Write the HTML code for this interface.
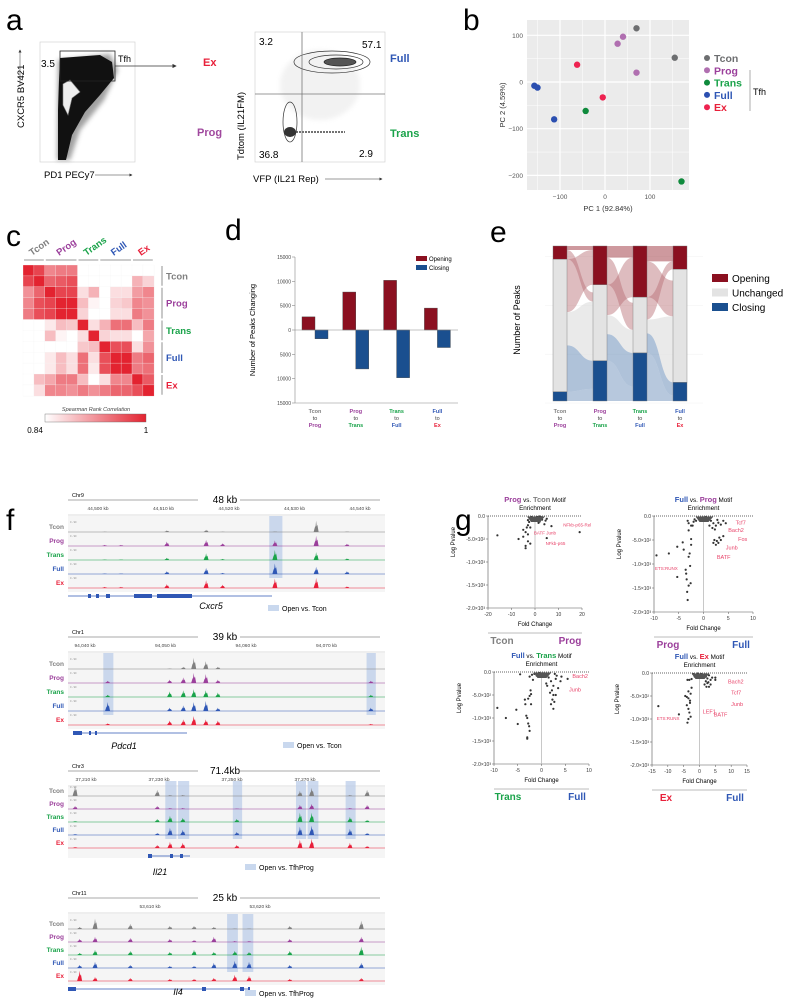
<!DOCTYPE html>
<html><head><meta charset="utf-8">
<style>
body{margin:0;background:#fff;}
svg{display:block;font-family:"Liberation Sans",sans-serif;}
</style></head>
<body>
<svg id="fig" width="789" height="1000" viewBox="0 0 789 1000" xmlns="http://www.w3.org/2000/svg">
<defs>
<filter id="blur1" x="-20%" y="-20%" width="140%" height="140%"><feGaussianBlur stdDeviation="2.5"/></filter>
<marker id="arr" markerWidth="6" markerHeight="6" refX="5" refY="3" orient="auto"><path d="M0,0 L6,3 L0,6 Z" fill="#333"/></marker>
</defs>

<!-- Panel a -->
<g>
<text x="6" y="30" font-size="30">a</text>
<g>
<rect x="40" y="42" width="95" height="120" fill="none" stroke="#ccc" stroke-width="0.6"/>
<path d="M58,60 L110,54 L118,70 L104,100 L80,130 L70,160 L57,160 Z" fill="#444" opacity="0.5" filter="url(#blur1)"/>
<path d="M60,58 L100,55 L112,62 L114,78 L100,95 L85,112 L72,135 L66,160 L58,160 L58,110 L59,80 Z" fill="#111"/>
<path d="M63,84 L70,80 L80,92 L72,98 L68,115 L63,105 Z" fill="#eee" stroke="#888" stroke-width="0.6"/>
<rect x="60" y="51" width="55" height="30" fill="none" stroke="#222" stroke-width="0.8"/>
<text x="41" y="67" font-size="10">3.5</text>
<text x="118" y="62" font-size="9">Tfh</text>
<line x1="115" y1="66" x2="176" y2="66" stroke="#333" stroke-width="0.7" marker-end="url(#arr)"/>
<text transform="translate(24,128) rotate(-90)" font-size="9.5">CXCR5 BV421</text>
<line x1="20" y1="85" x2="20" y2="50" stroke="#333" stroke-width="0.5" marker-end="url(#arr)"/>
<text x="44" y="178" font-size="9.5">PD1 PECy7</text>
<line x1="95" y1="175" x2="132" y2="175" stroke="#333" stroke-width="0.5" marker-end="url(#arr)"/>
</g>
<g>
<rect x="255" y="32" width="130" height="130" fill="none" stroke="#ccc" stroke-width="0.6"/>
<ellipse cx="320" cy="85" rx="40" ry="35" fill="#ccc" opacity="0.25" filter="url(#blur1)"/>
<ellipse cx="332" cy="62" rx="38" ry="11" fill="none" stroke="#333" stroke-width="0.7"/>
<ellipse cx="336" cy="62" rx="27" ry="7" fill="none" stroke="#333" stroke-width="0.7"/>
<ellipse cx="340" cy="62" rx="16" ry="4" fill="#555" stroke="#222" stroke-width="0.7"/>
<ellipse cx="290" cy="122" rx="7" ry="20" fill="none" stroke="#333" stroke-width="0.7"/>
<ellipse cx="290" cy="132" rx="6" ry="5" fill="#333"/>
<line x1="296" y1="132" x2="345" y2="132" stroke="#444" stroke-width="1.5" stroke-dasharray="2,1"/>
<line x1="302" y1="32" x2="302" y2="162" stroke="#777" stroke-width="0.8"/>
<line x1="255" y1="94" x2="385" y2="94" stroke="#777" stroke-width="0.8"/>
<text x="259" y="45" font-size="10">3.2</text>
<text x="362" y="48" font-size="10">57.1</text>
<text x="259" y="158" font-size="10">36.8</text>
<text x="359" y="157" font-size="10">2.9</text>
<text transform="translate(244,160) rotate(-90)" font-size="9.5">Tdtom (IL21FM)</text>
<text x="253" y="182" font-size="9.5">VFP (IL21 Rep)</text>
<line x1="325" y1="179" x2="382" y2="179" stroke="#333" stroke-width="0.5" marker-end="url(#arr)"/>
<text x="203" y="66" font-size="11" font-weight="bold" fill="#e8203a">Ex</text>
<text x="390" y="62" font-size="11" font-weight="bold" fill="#2f57b5">Full</text>
<text x="197" y="136" font-size="11" font-weight="bold" fill="#a0489e">Prog</text>
<text x="390" y="137" font-size="11" font-weight="bold" fill="#1aa34a">Trans</text>
</g>
</g>

<g id="dyn"></g>
</svg>

<script>
// ===== Panel b data (PCA) =====
const pcaGroups = ["Tcon","Prog","Trans","Full","Ex"];
const pcaColors = ["#6d6e70","#b06fb0","#0f8a3c","#2b4fb0","#ee2250"];
const pcaPC1 = [70,155, 40,28,70, -43,170, -157,-150,-113, -62,-5];
const pcaPC2 = [115,52, 97,82,20, -62,-213, -8,-12,-80, 37,-33];
const pcaGroupIdx = [0,0, 1,1,1, 2,2, 3,3,3, 4,4];
const pcaXTicks = [-100,0,100];
const pcaYTicks = [100,0,-100,-200];

// ===== Panel c data (Spearman heatmap) =====
const hmGroups = ["Tcon","Prog","Trans","Full","Ex"];
const hmGroupSizes = [2,3,2,3,2];
const hmRow0 = [1,.85,.55,.6,.6,0,0,0,0,0,0,0];
const hmRow1 = [.85,1,.7,.75,.8,0,0,0,0,0,.35,.2];
const hmRow2 = [.5,.7,1,.85,.85,.15,.35,0,.15,.15,.45,.55];
const hmRow3 = [.55,.8,.85,1,1,.3,.05,0,.2,.25,.55,.5];
const hmRow4 = [.6,.8,.85,1,1,.2,0,0,.15,.15,.6,.5];
const hmRow5 = [0,0,.1,.3,.25,1,.15,.35,.65,.65,.3,.6];
const hmRow6 = [0,0,.3,.05,0,.15,1,.2,.15,.15,0,.4];
const hmRow7 = [0,0,0,0,0,.25,.3,1,.8,.8,.15,.5];
const hmRow8 = [0,0,.1,.3,.15,.65,.15,.8,1,1,.6,.7];
const hmRow9 = [0,0,.1,.3,.15,.65,.1,.8,1,1,.6,.65];
const hmRow10 = [0,.3,.4,.6,.6,.3,0,.15,.55,.55,1,.75];
const hmRow11 = [0,.15,.55,.55,.5,.6,.5,.6,.7,.7,.8,1];

// ===== Panel d data =====
const dCategories = [["Tcon","Prog"],["Prog","Trans"],["Trans","Full"],["Full","Ex"]];
const dOpening = [2700,7800,10200,4500];
const dClosing = [1800,8000,9800,3600];
const dTickLabels = ["15000","10000","5000","0","5000","10000","15000"];
const dTickValues = [15000,10000,5000,0,-5000,-10000,-15000];

// ===== Panel e data (fractions) =====
const eOpening = [0.085,0.25,0.33,0.15];
const eUnchanged = [0.855,0.49,0.36,0.73];
const eClosing = [0.06,0.26,0.31,0.12];

// ===== Panel f data (tracks) =====
const l1Peaks = [44501,44503.5,44510.5,44516.5,44519,44527,44533.3,44538];
const l1Tcon = [0.03,0,0.15,0.2,0.03,0.05,1.0,0.05];
const l1Prog = [0.1,0.1,0.4,0.55,0.25,0.5,0.9,0.2];
const l1Trans = [0.05,0.05,0.2,0.6,0.1,0.9,0.7,0.15];
const l1Full = [0.05,0.05,0.25,0.55,0.1,0.95,0.65,0.25];
const l1Ex = [0.1,0.1,0.35,0.7,0.3,0.85,0.9,0.15];
const l1Ticks = [44500,44510,44520,44530,44540];
const l1Highlights = [[44526.3,44528]];

const l2Peaks = [94042.8,94050.5,94052.2,94053.5,94055,94056.5,94075.5];
const l2Tcon = [0,0.05,0.2,1.0,0.7,0.2,0];
const l2Prog = [0.2,0.3,0.5,0.9,0.8,0.3,0.2];
const l2Trans = [0.2,0.5,0.6,0.7,0.6,0.4,0.2];
const l2Full = [0.8,0.3,0.5,0.8,0.9,0.3,0.3];
const l2Ex = [0.15,0.4,0.5,0.8,0.5,0.4,0.1];
const l2Ticks = [94040,94050,94060,94070];
const l2Highlights = [[94042.4,94043.4],[94075.1,94076]];

const l3Peaks = [37207,37229.5,37233,37236.5,37251.3,37268.6,37271.8,37282.3,37287];
const l3Tcon = [1,0.6,0.1,0.1,0,0.5,0.8,0.1,0.6];
const l3Prog = [0.3,0.3,0.1,0.1,0.05,0.4,0.5,0.1,0.4];
const l3Trans = [0.1,0.3,0.6,0.4,0.3,0.9,0.9,0.5,0.2];
const l3Full = [0.1,0.2,0.7,0.5,0.3,0.8,0.9,0.6,0.2];
const l3Ex = [0.1,0.3,0.6,0.5,0.3,0.8,0.9,0.5,0.2];
const l3Ticks = [37210,37230,37250,37270];
const l3Highlights = [[37232,37234.5],[37235.5,37238],[37250.5,37252.5],[37267.8,37270],[37271,37273.4],[37281.4,37283.6]];

const l4Peaks = [53603.6,53605,53608.2,53611.8,53614,53615.8,53617.7,53619,53622.7,53629.2];
const l4Tcon = [.2,1,.5,.3,.3,.2,.05,.05,.3,.8];
const l4Prog = [.3,.5,.4,.3,.2,.5,.1,.1,.3,.5];
const l4Trans = [.2,.5,.4,.3,.5,.3,.4,.3,.4,.8];
const l4Full = [.3,.6,.3,.2,.2,.5,.7,.6,.3,.5];
const l4Ex = [1,.4,.3,.2,.2,.3,.6,.5,.2,.3];
const l4Ticks = [53610,53620];
const l4Highlights = [[53617.1,53617.9],[53618.5,53619.3]];

// ===== Panel g data (volcano) =====
const v1FC = [-16,-7,-5,-4,-4,-3,-3,-2,-4,-3,-5,-2,5,7,19,4,3,2,-1,1,0.5,-0.5,2.5,-2,4.5,1.5,-1.5,3,2,-3,5,-2.5,-3.5,1,2];
const v1LP = [-420,-500,-300,-650,-700,-550,-400,-250,-350,-200,-450,-600,-480,-220,-350,-180,-80,-120,-100,-60,-30,-40,-20,-50,-100,-150,-20,-40,-10,-90,-60,-130,-250,-20,-70];
const v2FC = [-9.5,-7,-5.3,-5.3,-4,-3.6,-3.4,-3.3,-3.2,-3,-3,-2.7,-2.5,-2.5,-2.8,-3.5,-2.6,-4.2,-3,-2.5,-3,-1.5,-1,-2,-0.5,-1.8,-2.2,-3.2,1,1.5,2,2.5,2.3,3,3.5,4,2.2,2.7,3.2,3.5,4,2.5,2,3,0.5,1.2,1.8,0.8,2.8,4.5,1.5];
const v2LP = [-820,-780,-640,-1270,-700,-1120,-1320,-1580,-1750,-1450,-850,-1040,-600,-480,-780,-1200,-1400,-550,-300,-200,-150,-100,-50,-120,-30,-70,-200,-100,-50,-100,-150,-200,-280,-140,-180,-100,-500,-520,-450,-500,-420,-600,-560,-560,-20,-200,-250,-80,-80,-150,-30];
const v3FC = [-9.3,-7.5,-5.3,-5,-3.5,-3.2,-3,-3,-3,-2.5,-2.6,-2.8,-2.3,-2.2,-2.5,-2.8,-2.2,-3.4,-4.5,-2.5,-1.5,-1,-2,-0.5,-1.8,1,1.5,2,2.5,2.2,2.5,2.3,2.7,2.5,2,3,3.5,4,3,5.5,1.2,1.8,0.5,3.2,2.8,1,4.2];
const v3LP = [-780,-1000,-820,-1130,-600,-950,-1000,-1420,-1450,-1280,-1180,-1120,-400,-480,-520,-580,-700,-700,-50,-100,-40,-80,-60,-20,-170,-50,-120,-200,-300,-400,-500,-600,-650,-800,-700,-500,-350,-200,-150,-150,-300,-450,-30,-80,-40,-250,-100];
const v4FC = [-13,-6.5,-4.5,-3.5,-3.8,-3.5,-3.2,-3,-3,-3.5,-4,-2.8,-2.5,-3.5,-4,-2.8,-3.2,-2.5,-1.5,-1,-2,-0.5,-3.8,1,1.5,2,2.5,3,3.5,2.5,2,4,5,5,1.2,3,1.8,0.5,3.5,2.8,2.2,1.6];
const v4LP = [-720,-900,-500,-1000,-1080,-780,-860,-650,-600,-550,-520,-450,-320,-400,-700,-950,-150,-130,-80,-40,-20,-10,-150,-40,-100,-180,-220,-300,-250,-120,-80,-100,-150,-100,-60,-50,-30,-20,-150,-200,-300,-250];
const volcYTicks = [0,-500,-1000,-1500,-2000];
const volcYLabels = ["0.0","-5.0×10²","-1.0×10³","-1.5×10³","-2.0×10³"];

// ================= drawing =================
const NS = "http://www.w3.org/2000/svg";
const root = document.getElementById("dyn");
function mk(tag, attrs, parent){
  const el = document.createElementNS(NS, tag);
  for (const k in attrs) el.setAttribute(k, attrs[k]);
  (parent||root).appendChild(el);
  return el;
}
function nm(el, name){
  
  
  return el;
}
function txt(x,y,s,size,opts,name){
  const o = Object.assign({x:x,y:y,'font-size':size}, opts||{});
  const t = mk("text", o);
  t.textContent = s;
  
  
  return t;
}
const COL = {Tcon:"#808080",Prog:"#9b3f9b",Trans:"#1aa34a",Full:"#2f57b5",Ex:"#e8203a"};
const OPEN="#8b1020", CLOSE="#1a4f8f";

// ---- Panel b ----
txt(463,30,"b",30,{},"panel-b-label");
const bx0=527,bx1=689,by0=20,by1=190;
const bX = v => 605 + v*0.45;
const bY = v => 82 - v*0.467;
let e;
e = mk("rect",{x:bx0,y:by0,width:bx1-bx0,height:by1-by0,fill:"#ebebeb"}); nm(e,"pca-plot-background");
[-150,-50,50,150].forEach(v=>{ e=mk("line",{x1:bX(v),x2:bX(v),y1:by0,y2:by1,stroke:"#fff","stroke-width":0.5}); nm(e,"pca-minor-gridline-x"); });
[150,50,-50,-150].forEach(v=>{ if(bY(v)>by0&&bY(v)<by1){ e=mk("line",{x1:bx0,x2:bx1,y1:bY(v),y2:bY(v),stroke:"#fff","stroke-width":0.5}); nm(e,"pca-minor-gridline-y"); }});
pcaXTicks.forEach(v=>{ e=mk("line",{x1:bX(v),x2:bX(v),y1:by0,y2:by1,stroke:"#fff","stroke-width":1.2}); nm(e,"pca-gridline-x");
  txt(bX(v),199,String(v).replace("-","−"),6.5,{'text-anchor':'middle',fill:'#555'},"pca-x-tick-label"); });
pcaYTicks.forEach(v=>{ e=mk("line",{x1:bx0,x2:bx1,y1:bY(v),y2:bY(v),stroke:"#fff","stroke-width":1.2}); nm(e,"pca-gridline-y");
  txt(523,bY(v)+2.5,String(v).replace("-","−"),6.5,{'text-anchor':'end',fill:'#555'},"pca-y-tick-label"); });
txt(608,211,"PC 1 (92.84%)",7.5,{'text-anchor':'middle',fill:'#333'},"pca-x-axis-title");
txt(0,0,"PC 2 (4.59%)",7.5,{'text-anchor':'middle',fill:'#333',transform:'translate(505,105) rotate(-90)'},"pca-y-axis-title");
pcaPC1.forEach((v,i)=>{ e=mk("circle",{cx:bX(v),cy:bY(pcaPC2[i]),r:3.2,fill:pcaColors[pcaGroupIdx[i]]}); nm(e,"pca-point-"+pcaGroups[pcaGroupIdx[i]].toLowerCase()); });
pcaGroups.forEach((g,i)=>{ const y=58+i*12.3;
  e=mk("circle",{cx:707,cy:y,r:3,fill:pcaColors[i]}); nm(e,"pca-legend-swatch-"+g.toLowerCase());
  txt(714,y+4,g,10.5,{'font-weight':'bold',fill:i==0?'#6d6e70':COL[g]},"pca-legend-entry-"+g.toLowerCase()); });
e=mk("line",{x1:750,x2:750,y1:70,y2:111,stroke:"#777","stroke-width":0.6}); nm(e,"tfh-bracket");
txt(753,95,"Tfh",9,{},"tfh-bracket-label");

// ---- Panel c ----
txt(6,246,"c",30,{},"panel-c-label");
const hm=[hmRow0,hmRow1,hmRow2,hmRow3,hmRow4,hmRow5,hmRow6,hmRow7,hmRow8,hmRow9,hmRow10,hmRow11];
const cx0=23,cy0=265,cs=10.9;
function hmColor(v){ const r=Math.round(255+(227-255)*v), g=Math.round(255+(35-255)*v), b=Math.round(255+(48-255)*v); return `rgb(${r},${g},${b})`; }
hm.forEach((row,i)=>row.forEach((v,j)=>{ e=mk("rect",{x:cx0+j*cs,y:cy0+i*cs,width:cs+0.3,height:cs+0.3,fill:hmColor(v),stroke:'#f4f4f4','stroke-width':0.3}); nm(e,"heatmap-cell"); }));
let acc=0;
hmGroups.forEach((g,i)=>{ const n=hmGroupSizes[i]; const a=cx0+acc*cs, b=cx0+(acc+n)*cs;
  e=mk("line",{x1:a+1,x2:b-1,y1:260,y2:260,stroke:"#777","stroke-width":0.8}); nm(e,"heatmap-col-group-bar");
  e=mk("line",{x1:162,x2:162,y1:cy0+acc*cs+1,y2:cy0+(acc+n)*cs-1,stroke:"#777","stroke-width":0.8}); nm(e,"heatmap-row-group-bar");
  txt((a+b)/2-2,256,g,9.5,{'font-weight':'bold',fill:COL[g],transform:`rotate(-35 ${(a+b)/2-2} 256)`},"heatmap-col-label-"+g.toLowerCase());
  txt(166,cy0+(acc+n/2)*cs+3.5,g,9.5,{'font-weight':'bold',fill:COL[g]},"heatmap-row-label-"+g.toLowerCase());
  acc+=n; });
const grad=mk("linearGradient",{id:"hmgrad",x1:0,x2:1,y1:0,y2:0},document.querySelector("defs"));
mk("stop",{offset:0,'stop-color':'#fff'},grad); mk("stop",{offset:1,'stop-color':'#e32330'},grad);
e=mk("rect",{x:45,y:414,width:101,height:8,fill:"url(#hmgrad)",stroke:"#666","stroke-width":0.4}); nm(e,"colorbar");
txt(96,411,"Spearman Rank Correlation",5.5,{'text-anchor':'middle','font-style':'italic',fill:'#444'},"colorbar-title");
txt(35,433,"0.84",8,{'text-anchor':'middle'},"colorbar-min-label");
txt(146,433,"1",8,{'text-anchor':'middle'},"colorbar-max-label");

// ---- Panel d ----
txt(225,240,"d",30,{},"panel-d-label");
const dAxX=295, dY0=330, dScale=73/15000;
const dY = v => dY0 - v*dScale;
e=mk("line",{x1:dAxX,x2:dAxX,y1:dY(15000),y2:dY(-15000),stroke:"#888","stroke-width":0.6}); nm(e,"d-y-axis");
e=mk("line",{x1:dAxX,x2:458,y1:dY(-15000),y2:dY(-15000),stroke:"#888","stroke-width":0.6}); nm(e,"d-x-axis");
dTickValues.forEach((v,i)=>{ e=mk("line",{x1:dAxX-3,x2:dAxX,y1:dY(v),y2:dY(v),stroke:"#888","stroke-width":0.6}); nm(e,"d-y-tick");
  txt(dAxX-4,dY(v)+2,dTickLabels[i],5,{'text-anchor':'end',fill:'#444'},"d-y-tick-label"); });
const dGroupX = i => 302 + i*40.8;
dCategories.forEach((c,i)=>{ const x=dGroupX(i);
  e=mk("rect",{x:x,y:dY(dOpening[i]),width:13,height:dOpening[i]*dScale,fill:OPEN,stroke:"#444","stroke-width":0.4}); nm(e,"bar-opening-"+c[0].toLowerCase()+"-to-"+c[1].toLowerCase());
  e=mk("rect",{x:x+13,y:dY0,width:13,height:dClosing[i]*dScale,fill:CLOSE,stroke:"#444","stroke-width":0.4}); nm(e,"bar-closing-"+c[0].toLowerCase()+"-to-"+c[1].toLowerCase());
  txt(x+13,413,c[0],5.5,{'text-anchor':'middle','font-weight':'bold',fill:COL[c[0]]},"d-x-label-from");
  txt(x+13,420,"to",5.5,{'text-anchor':'middle',fill:'#444'},"d-x-label-to");
  txt(x+13,427,c[1],5.5,{'text-anchor':'middle','font-weight':'bold',fill:COL[c[1]]},"d-x-label-target"); });
e=mk("line",{x1:dAxX,x2:458,y1:dY0,y2:dY0,stroke:"#888","stroke-width":0.6}); nm(e,"d-zero-line");
e=mk("rect",{x:416,y:256,width:11,height:5,fill:OPEN}); nm(e,"d-legend-opening-swatch");
txt(429,261,"Opening",6,{},"d-legend-opening");
e=mk("rect",{x:416,y:265,width:11,height:5,fill:CLOSE}); nm(e,"d-legend-closing-swatch");
txt(429,270,"Closing",6,{},"d-legend-closing");
txt(0,0,"Number of Peaks Changing",7.5,{'text-anchor':'middle',transform:'translate(255,330) rotate(-90)'},"d-y-axis-title");

// ---- Panel e ----
txt(490,242,"e",30,{},"panel-e-label");
const eTop=246, eBot=401, eH=eBot-eTop, eW=14;
const eX = i => 553 + i*40;
[0,0.25,0.5,0.75].forEach(f=>{ e=mk("line",{x1:545,x2:703,y1:eBot-f*eH*1.26+2,y2:eBot-f*eH*1.26+2,stroke:"#f0f0f0","stroke-width":0.5}); nm(e,"e-gridline"); });
function band(x0,a0,b0,x1,a1,b1,col,op,name){
  const m=(x0+x1)/2;
  e=mk("path",{d:`M${x0},${a0} C${m},${a0} ${m},${a1} ${x1},${a1} L${x1},${b1} C${m},${b1} ${m},${b0} ${x0},${b0} Z`,fill:col,opacity:op}); nm(e,name);
}
const segY = (i)=>{ const o=eTop+eOpening[i]*eH, u=o+eUnchanged[i]*eH; return [eTop,o,u,eBot]; };
for(let i=0;i<3;i++){
  const s=segY(i), t=segY(i+1), x0=eX(i)+eW, x1=eX(i+1);
  const ou=s[1]-s[0], uu=s[2]-s[1], cu=s[3]-s[2];
  const tO=t[1]-t[0], tU=t[2]-t[1], tC=t[3]-t[2];
  band(x0,s[0],s[0]+ou*0.3,x1,t[0],t[0]+ou*0.3,"#a5454f",0.55,"flow-opening-opening");
  band(x0,s[0]+ou*0.3,s[1],x1,t[1]+tU*0.1,t[1]+tU*0.1+ou*0.7,"#b56a72",0.45,"flow-opening-unchanged");
  band(x0,s[1],s[1]+uu*0.4,x1,t[0]+ou*0.3,t[1],"#b56a72",0.45,"flow-unchanged-opening");
  band(x0,s[1]+uu*0.4,s[2]-uu*0.35,x1,t[1]+tU*0.1+ou*0.7,t[2],"#dcdcdc",0.6,"flow-unchanged-unchanged");
  band(x0,s[2]-uu*0.35,s[2],x1,t[2],t[2]+tC*0.7,"#5f86b3",0.5,"flow-unchanged-closing");
  band(x0,s[2],s[3],x1,t[2]+tC*0.7,t[3],"#5f86b3",0.45,"flow-closing-closing");
}
for(let i=0;i<4;i++){
  const s=segY(i), x=eX(i);
  e=mk("rect",{x:x,y:s[0],width:eW,height:s[1]-s[0],fill:OPEN,stroke:"#777","stroke-width":0.4}); nm(e,"e-bar-opening");
  e=mk("rect",{x:x,y:s[1],width:eW,height:s[2]-s[1],fill:"#e3e3e3",stroke:"#777","stroke-width":0.4}); nm(e,"e-bar-unchanged");
  e=mk("rect",{x:x,y:s[2],width:eW,height:s[3]-s[2],fill:CLOSE,stroke:"#777","stroke-width":0.4}); nm(e,"e-bar-closing");
  const c=dCategories[i];
  txt(x+7,413,c[0],5.5,{'text-anchor':'middle','font-weight':'bold',fill:COL[c[0]]},"e-x-label-from");
  txt(x+7,420,"to",5.5,{'text-anchor':'middle',fill:'#444'},"e-x-label-to");
  txt(x+7,427,c[1],5.5,{'text-anchor':'middle','font-weight':'bold',fill:COL[c[1]]},"e-x-label-target");
}
[["Opening",OPEN],["Unchanged","#e3e3e3"],["Closing",CLOSE]].forEach((p,i)=>{ const y=274+i*14.5;
  e=mk("rect",{x:712,y:y,width:16,height:8,fill:p[1]}); nm(e,"e-legend-swatch-"+p[0].toLowerCase());
  txt(732,y+8,p[0],10,{},"e-legend-"+p[0].toLowerCase()); });
txt(0,0,"Number of Peaks",9,{'text-anchor':'middle',transform:'translate(520,320) rotate(-90)'},"e-y-axis-title");

// ---- Panel f ----
txt(6,530,"f",30,{},"panel-f-label");
const samples=["Tcon","Prog","Trans","Full","Ex"];
function locus(cfg){
  const X = kb => cfg.px0 + (kb-cfg.kb0)*cfg.ppk;
  txt(72,cfg.ruler-3,cfg.chr,5.5,{},"chromosome-label");
  txt(225,cfg.ruler+3,cfg.span,10,{'text-anchor':'middle'},"locus-span-label");
  e=mk("line",{x1:68,x2:198,y1:cfg.ruler,y2:cfg.ruler,stroke:"#555","stroke-width":0.5}); nm(e,"span-line-left");
  e=mk("line",{x1:240,x2:380,y1:cfg.ruler,y2:cfg.ruler,stroke:"#555","stroke-width":0.5}); nm(e,"span-line-right");
  cfg.ticks.forEach(t=>{ txt(X(t),cfg.ruler+10,t.toLocaleString("en-US")+" kb",4.8,{'text-anchor':'middle',fill:'#444'},"genome-tick-label"); });
  e=mk("line",{x1:68,x2:385,y1:cfg.ruler+15,y2:cfg.ruler+15,stroke:"#bbb","stroke-width":0.5}); nm(e,"genome-ruler");
  e=mk("rect",{x:68,y:cfg.ruler+16,width:317,height:cfg.row*5+6,fill:"#f5f5f5"}); nm(e,"track-background");
  cfg.hl.forEach(h=>{ e=mk("rect",{x:X(h[0])-1,y:cfg.base0-cfg.row-2,width:X(h[1])-X(h[0])+2,height:cfg.row*4+6,fill:"#b8cbe8",opacity:0.7}); nm(e,"differential-peak-highlight"); });
  samples.forEach((s,si)=>{
    const b=cfg.base0+si*cfg.row;
    txt(64,b-3,s,6.5,{'text-anchor':'end','font-weight':'bold',fill:COL[s]},"track-label-"+s.toLowerCase());
    txt(70,b-cfg.row+5,"0 - 90",2.5,{fill:'#888'},"track-scale-label");
    e=mk("line",{x1:68,x2:385,y1:b,y2:b,stroke:COL[s],"stroke-width":0.5}); nm(e,"track-baseline-"+s.toLowerCase());
    const hs=cfg.h[si];
    cfg.peaks.forEach((p,pi)=>{ const x=X(p), h=hs[pi]*cfg.row*0.8; if(h<0.3) return;
      e=mk("path",{d:`M${x-2.5},${b} L${x-1.3},${b-h*0.4} L${x-0.5},${b-h*0.55} L${x},${b-h} L${x+0.6},${b-h*0.5} L${x+1.3},${b-h*0.65} L${x+2.5},${b} Z`,fill:COL[s]}); nm(e,"peak-"+s.toLowerCase()); });
  });
  const gy=cfg.base0+cfg.row*4+8;
  e=mk("line",{x1:cfg.g0,x2:cfg.g1,y1:gy,y2:gy,stroke:"#2f57b5","stroke-width":0.7}); nm(e,"gene-model-line");
  cfg.exons.forEach(ex=>{ e=mk("rect",{x:ex[0],y:gy-2,width:ex[1]-ex[0],height:4,fill:"#2f57b5"}); nm(e,"gene-exon"); });
  txt(cfg.gx,cfg.gy,cfg.gene,9,{'text-anchor':'middle','font-style':'italic'},"gene-name-"+cfg.gene.toLowerCase());
  e=mk("rect",{x:cfg.lx,y:cfg.ly-6,width:11,height:6,fill:"#c9d8ee"}); nm(e,"highlight-legend-swatch");
  txt(cfg.lx+14,cfg.ly,cfg.legend,7,{},"highlight-legend-label");
}
locus({chr:"Chr9",span:"48 kb",ruler:500,kb0:44500,px0:98,ppk:6.55,ticks:l1Ticks,base0:532,row:14,peaks:l1Peaks,h:[l1Tcon,l1Prog,l1Trans,l1Full,l1Ex],hl:l1Highlights,
  g0:68,g1:272,exons:[[88,91],[96,99],[106,110],[134,152],[157,192]],gene:"Cxcr5",gx:211,gy:609,lx:268,ly:611,legend:"Open vs. Tcon"});
locus({chr:"Chr1",span:"39 kb",ruler:637,kb0:94040,px0:85,ppk:8.05,ticks:l2Ticks,base0:669,row:14,peaks:l2Peaks,h:[l2Tcon,l2Prog,l2Trans,l2Full,l2Ex],hl:l2Highlights,
  g0:73,g1:187,exons:[[73,82],[89,91],[95,97]],gene:"Pdcd1",gx:124,gy:749,lx:283,ly:748,legend:"Open vs. Tcon"});
locus({chr:"Chr3",span:"71.4kb",ruler:771,kb0:37210,px0:86,ppk:3.65,ticks:l3Ticks,base0:796,row:13,peaks:l3Peaks,h:[l3Tcon,l3Prog,l3Trans,l3Full,l3Ex],hl:l3Highlights,
  g0:148,g1:190,exons:[[148,152],[170,173],[180,183]],gene:"Il21",gx:160,gy:875,lx:245,ly:870,legend:"Open vs. TfhProg"});
locus({chr:"Chr11",span:"25 kb",ruler:898,kb0:53610,px0:150,ppk:11,ticks:l4Ticks,base0:929,row:13,peaks:l4Peaks,h:[l4Tcon,l4Prog,l4Trans,l4Full,l4Ex],hl:l4Highlights,
  g0:68,g1:250,exons:[[68,76],[202,206],[240,244],[248,250]],gene:"Il4",gx:178,gy:995,lx:245,ly:996,legend:"Open vs. TfhProg"});

// ---- Panel g ----
txt(455,530,"g",30,{},"panel-g-label");
function volcano(cfg){
  const X = v => cfg.x0 + (v-cfg.xmin)/(cfg.xmax-cfg.xmin)*(cfg.x1-cfg.x0);
  const Y = v => cfg.y0 + (-v)/2000*(cfg.y1-cfg.y0);
  const cx=(cfg.x0+cfg.x1)/2;
  const t=mk("text",{x:cx,y:cfg.y0-14,'font-size':6.3,'text-anchor':'middle'}); nm(t,"volcano-title");
  let s=mk("tspan",{'font-weight':'bold',fill:COL[cfg.a],'font-size':7.5},t); s.textContent=cfg.a;
  s=mk("tspan",{},t); s.textContent=" vs. ";
  s=mk("tspan",{'font-weight':'bold',fill:COL[cfg.b],'font-size':7.5},t); s.textContent=cfg.b;
  s=mk("tspan",{},t); s.textContent=" Motif";
  txt(cx,cfg.y0-6,"Enrichment",6.3,{'text-anchor':'middle'},"volcano-title-line2");
  e=mk("line",{x1:cfg.x0,x2:cfg.x0,y1:cfg.y0,y2:cfg.y1,stroke:"#555","stroke-width":0.6}); nm(e,"volcano-y-axis");
  e=mk("line",{x1:cfg.x0,x2:cfg.x1,y1:cfg.y1,y2:cfg.y1,stroke:"#555","stroke-width":0.6}); nm(e,"volcano-x-axis");
  e=mk("line",{x1:cfg.x0,x2:cfg.x1,y1:cfg.y0,y2:cfg.y0,stroke:"#333","stroke-width":0.7,'stroke-dasharray':'1,1'}); nm(e,"volcano-significance-line");
  e=mk("line",{x1:X(0),x2:X(0),y1:cfg.y0,y2:cfg.y1,stroke:"#bbb","stroke-width":0.8}); nm(e,"volcano-zero-line");
  volcYTicks.forEach((v,i)=>{ e=mk("line",{x1:cfg.x0-2,x2:cfg.x0,y1:Y(v),y2:Y(v),stroke:"#555","stroke-width":0.5}); nm(e,"volcano-y-tick");
    txt(cfg.x0-3,Y(v)+2,volcYLabels[i],5,{'text-anchor':'end',fill:'#333'},"volcano-y-tick-label"); });
  cfg.xt.forEach(v=>{ e=mk("line",{x1:X(v),x2:X(v),y1:cfg.y1,y2:cfg.y1+2,stroke:"#555","stroke-width":0.5}); nm(e,"volcano-x-tick");
    txt(X(v),cfg.y1+8,String(v),5,{'text-anchor':'middle',fill:'#333'},"volcano-x-tick-label"); });
  txt(cx,cfg.y1+18,"Fold Change",6,{'text-anchor':'middle'},"volcano-x-axis-title");
  txt(0,0,"Log Pvalue",6,{'text-anchor':'middle',transform:`translate(${cfg.x0-33},${(cfg.y0+cfg.y1)/2-20}) rotate(-90)`},"volcano-y-axis-title");
  cfg.fc.forEach((v,i)=>{ e=mk("circle",{cx:X(v),cy:Y(cfg.lp[i]),r:1.1,fill:"#333"}); nm(e,"motif-point"); });
  e=mk("path",{d:`M${X(0)-8},${cfg.y0+0.5} L${X(0)+10},${cfg.y0+0.5} L${X(0)+5},${cfg.y0+6} L${X(0)-4},${cfg.y0+6} Z`,fill:"#555"}); nm(e,"motif-point-cluster");
  cfg.labels.forEach(l=>{ txt(X(l[1]),Y(l[2]),l[0],l[0].length>6?4.5:5.5,{fill:"#e8446a"},"motif-label"); });
  const ay=cfg.y1+25;
  e=mk("line",{x1:cfg.x0,x2:cfg.x1,y1:ay,y2:ay,stroke:"#555","stroke-width":0.4}); nm(e,"volcano-direction-arrow");
  txt(cfg.x0+14,ay+11,cfg.left,10,{'text-anchor':'middle','font-weight':'bold',fill:COL[cfg.left]},"volcano-left-group");
  txt(cfg.x1-12,ay+11,cfg.right,10,{'text-anchor':'middle','font-weight':'bold',fill:COL[cfg.right]},"volcano-right-group");
}
volcano({a:"Prog",b:"Tcon",x0:488,x1:582,y0:516,y1:608,xmin:-20,xmax:20,xt:[-20,-10,0,10,20],fc:v1FC,lp:v1LP,left:"Tcon",right:"Prog",
  labels:[["NFkb-p65-Rel",12,-230],["BATF Junb",-0.5,-400],["NFkb-p65",4.5,-630]]});
volcano({a:"Full",b:"Prog",x0:654,x1:753,y0:516,y1:612,xmin:-10,xmax:10,xt:[-10,-5,0,5,10],fc:v2FC,lp:v2LP,left:"Prog",right:"Full",
  labels:[["Tcf7",6.5,-180],["Bach2",5,-330],["Fos",7,-520],["Junb",4.5,-700],["BATF",2.7,-900],["ETS:RUNX",-9.8,-1120]]});
volcano({a:"Full",b:"Trans",x0:494,x1:589,y0:672,y1:764,xmin:-10,xmax:10,xt:[-10,-5,0,5,10],fc:v3FC,lp:v3LP,left:"Trans",right:"Full",
  labels:[["Bach2",6.5,-130],["Junb",5.8,-420]]});
volcano({a:"Full",b:"Ex",x0:652,x1:747,y0:673,y1:765,xmin:-15,xmax:15,xt:[-15,-10,-5,0,5,10,15],fc:v4FC,lp:v4LP,left:"Ex",right:"Full",
  labels:[["Bach2",9,-230],["Tcf7",10,-470],["Junb",10,-720],["LEF1",1,-880],["BATF",4.5,-950],["ETS:RUNX",-13.5,-1020]]});
</script>
</body></html>
